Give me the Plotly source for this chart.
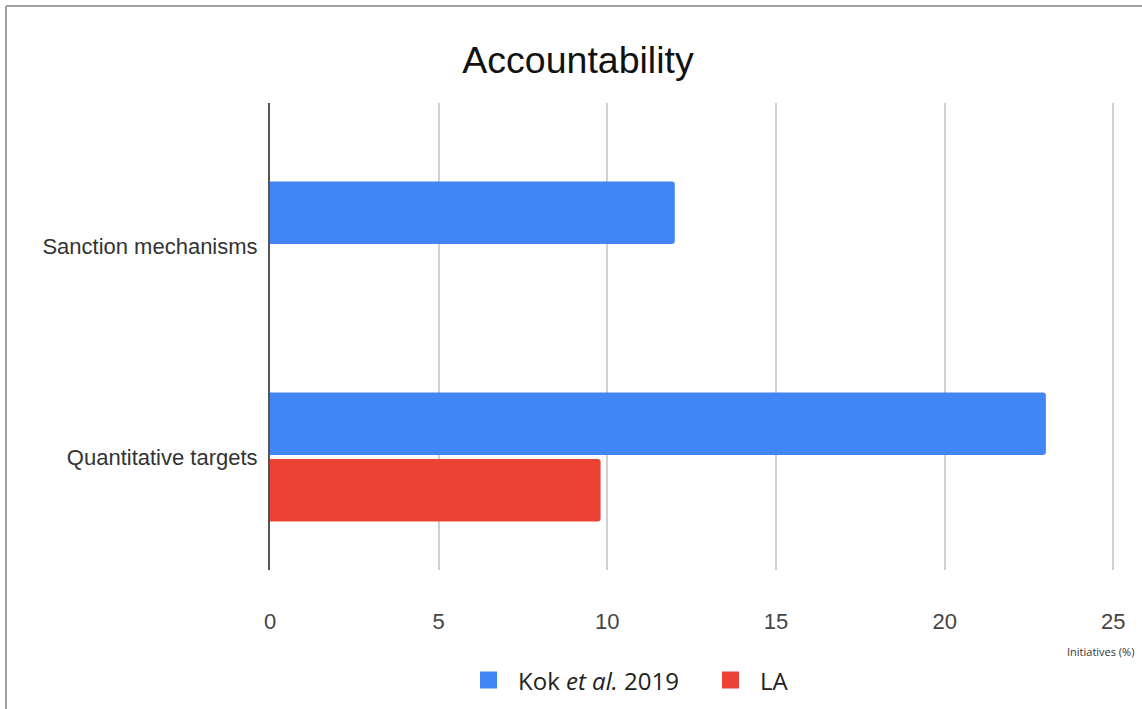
import plotly.graph_objects as go

# Share of initiatives (%) per accountability feature
categories = ["Sanction mechanisms", "Quantitative targets"]
kok_2019 = [12, 23]
la_values = [0, 9.8]
x_ticks = [0, 5, 10, 15, 20, 25]
series_names = ["Kok <i>et al.</i> 2019", "LA"]
series_colors = ["#4285F4", "#EA4335"]

positions = list(range(len(categories)))

fig = go.Figure()
for name, color, vals in zip(series_names, series_colors, [kok_2019, la_values]):
    fig.add_trace(go.Bar(
        y=positions, x=vals, orientation="h", name=name,
        marker=dict(color=color, cornerradius=3, line=dict(width=0)),
        showlegend=False,
    ))

# plot area in pixels: x 270..1115, y 103..570
L, R, T, B = 270, 1115, 103, 570
W, H = 1142, 709
pw, ph = R - L, B - T


def px_x(x):
    return (x - L) / pw


def px_y(y):
    return (B - y) / ph


fig.update_layout(
    width=W, height=H,
    margin=dict(l=L, r=W - R, t=T, b=H - B),
    paper_bgcolor="white", plot_bgcolor="white",
    barmode="group", bargap=0.37, bargroupgap=0.06,
    title=dict(text="Accountability", x=px_x(578), xref="paper", xanchor="center",
               y=1 - 60 / H, yanchor="middle",
               font=dict(family="Liberation Sans, Arial", size=37.5, color="#111")),
    xaxis=dict(
        range=[0, 25.05], tickvals=x_ticks, showgrid=True,
        gridcolor="#d0d0d0", gridwidth=2, zeroline=False, showline=False,
        ticks="", ticklabelstandoff=36,
        tickfont=dict(family="Liberation Sans, Arial", size=22, color="#444"),
    ),
    yaxis=dict(
        range=[1.536, -0.678], tickvals=positions, ticktext=categories,
        showgrid=False, zeroline=False, showline=True, linecolor="#555", linewidth=2,
        ticks="", ticklabelstandoff=6,
        tickfont=dict(family="Liberation Sans, Arial", size=22, color="#333"),
    ),
    showlegend=False,
)

# legend: coloured squares with labels below the axis
legend_x = [480, 722]
legend_y = 680
for name, color, lx in zip(series_names, series_colors, legend_x):
    fig.add_shape(type="rect", xref="paper", yref="paper",
                  x0=px_x(lx), x1=px_x(lx + 17), y0=px_y(legend_y - 8.5), y1=px_y(legend_y + 8.5),
                  fillcolor=color, line=dict(width=0))
    fig.add_annotation(text=name, xref="paper", yref="paper",
                       x=px_x(lx + 36), y=px_y(legend_y), xanchor="left", yanchor="middle",
                       showarrow=False,
                       font=dict(family="Open Sans", size=24, color="#222"))

# x axis title at the lower right
fig.add_annotation(
    text="Initiatives (%)", xref="paper", yref="paper",
    x=px_x(1136), y=px_y(651), xanchor="right", yanchor="middle",
    showarrow=False, font=dict(family="Open Sans", size=11, color="#333"),
)

# outer frame lines
fig.add_shape(type="line", xref="paper", yref="paper",
              x0=px_x(6), x1=px_x(W), y0=px_y(6), y1=px_y(6),
              line=dict(color="#a0a0a0", width=2))
fig.add_shape(type="line", xref="paper", yref="paper",
              x0=px_x(6), x1=px_x(6), y0=px_y(6), y1=px_y(H),
              line=dict(color="#a0a0a0", width=2))

fig.write_html("out.html")
